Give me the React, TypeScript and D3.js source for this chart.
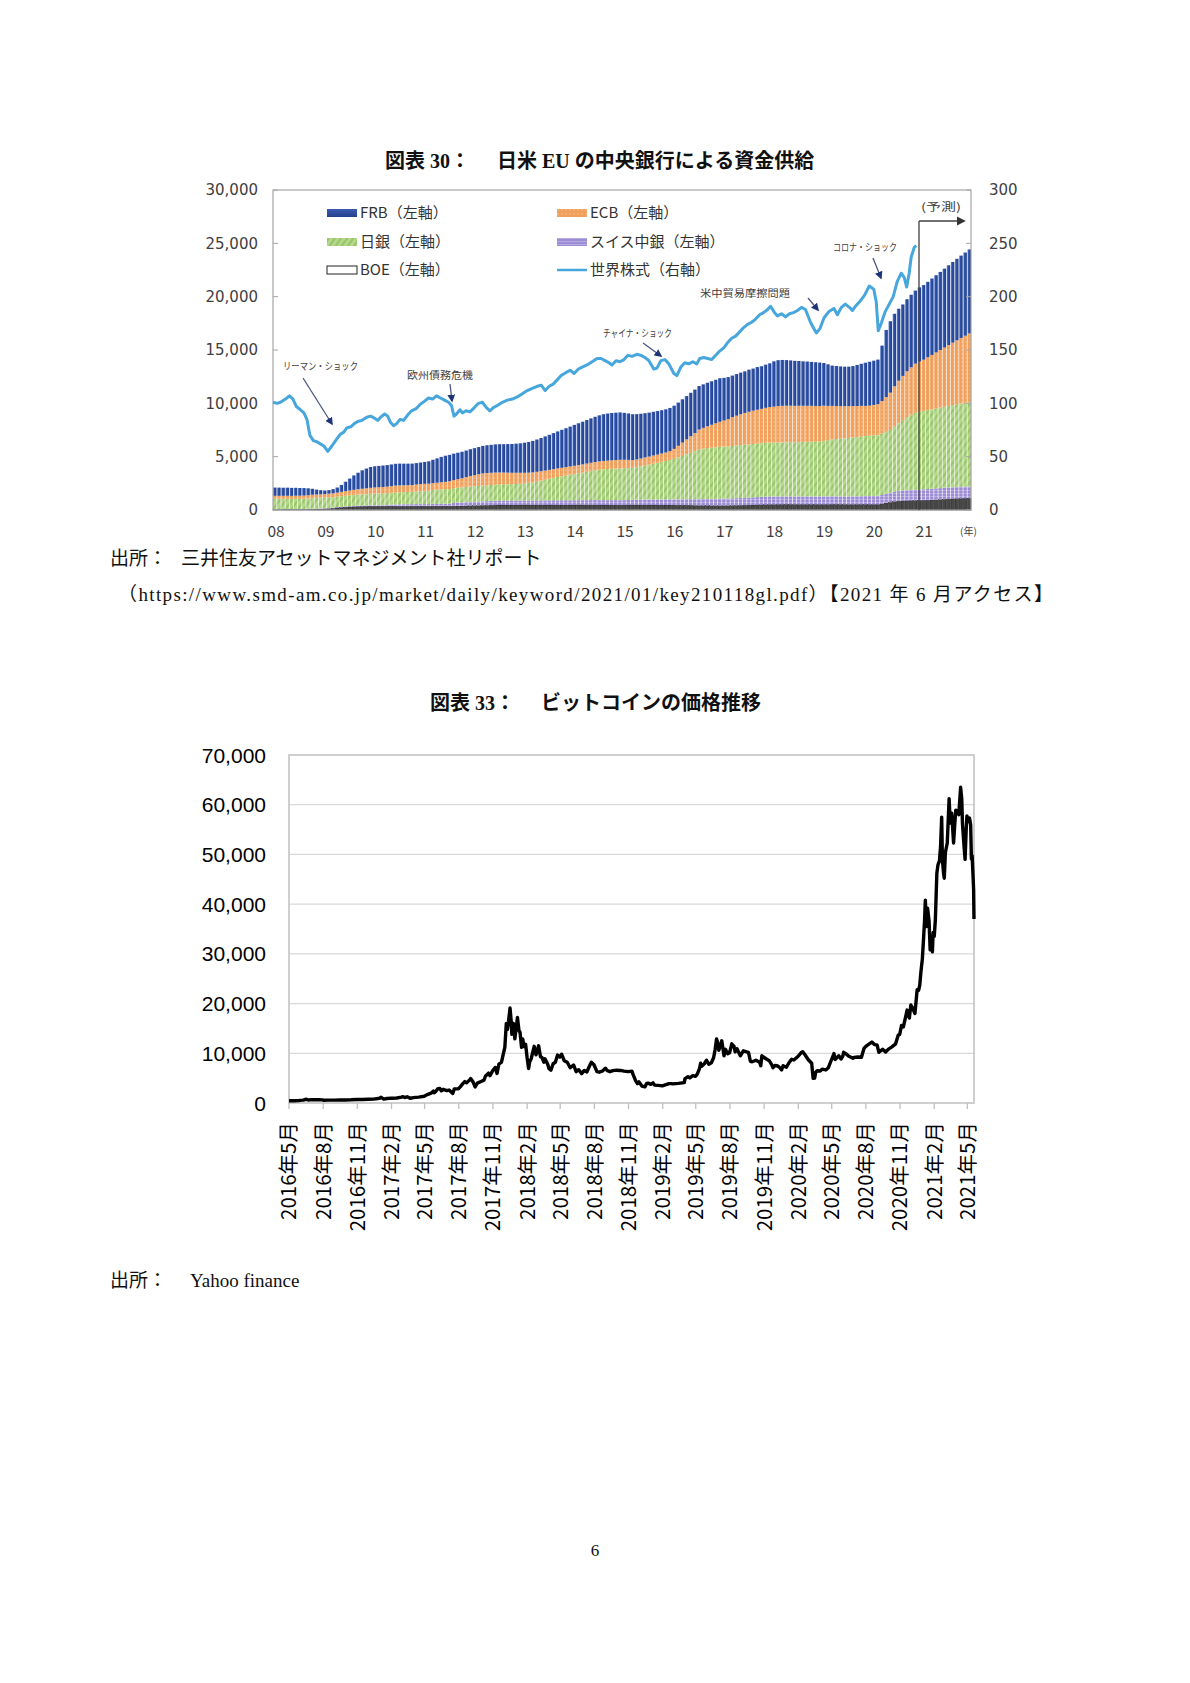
import React from 'react';
import * as d3 from 'd3';

// ---------- 図表30: central bank supply (monthly, 2008/01 - 2021/12) ----------
const startYear = 2008;

const boe = [
  30, 30, 30, 35, 35, 40, 40, 45, 50, 60, 70, 80,
  100, 130, 160, 200, 230, 260, 280, 300, 320, 330, 340, 350,
  350, 350, 350, 350, 350, 350, 350, 350, 355, 355, 355, 355,
  355, 355, 360, 360, 360, 360, 360, 365, 370, 380, 390, 400,
  410, 420, 430, 440, 450, 460, 470, 470, 470, 470, 470, 470,
  470, 470, 475, 475, 470, 470, 470, 475, 475, 470, 470, 470,
  470, 475, 475, 480, 480, 480, 475, 470, 470, 465, 465, 460,
  460, 465, 470, 470, 475, 475, 470, 470, 465, 465, 470, 470,
  460, 450, 450, 450, 450, 430, 420, 420, 420, 410, 410, 410,
  410, 410, 420, 430, 440, 450, 460, 470, 480, 490, 500, 510,
  510, 520, 520, 525, 525, 520, 520, 520, 515, 515, 520, 520,
  520, 520, 525, 525, 520, 520, 515, 515, 520, 520, 520, 520,
  520, 520, 580, 650, 720, 780, 820, 850, 870, 880, 890, 900,
  910, 920, 940, 960, 980, 1000, 1020, 1040, 1060, 1080, 1090, 1100,
];

const swiss = [
  50, 50, 50, 50, 50, 50, 50, 50, 55, 60, 60, 60,
  60, 62, 65, 68, 70, 72, 75, 80, 85, 90, 95, 100,
  100, 105, 110, 120, 150, 170, 180, 185, 190, 195, 200, 200,
  200, 200, 210, 210, 220, 230, 240, 300, 330, 340, 345, 350,
  360, 370, 380, 390, 400, 410, 420, 420, 420, 420, 420, 420,
  420, 420, 425, 425, 430, 430, 430, 435, 435, 440, 440, 440,
  440, 440, 445, 445, 450, 450, 450, 455, 455, 460, 460, 460,
  470, 480, 490, 500, 500, 510, 510, 520, 520, 530, 530, 540,
  540, 550, 560, 570, 580, 590, 600, 610, 620, 630, 640, 650,
  650, 660, 670, 680, 690, 700, 710, 720, 730, 740, 750, 760,
  760, 765, 765, 760, 760, 755, 760, 760, 765, 760, 755, 760,
  760, 760, 765, 765, 760, 760, 765, 770, 770, 780, 790, 800,
  800, 810, 830, 860, 890, 920, 950, 970, 990, 1000, 1010, 1020,
  1030, 1040, 1050, 1060, 1070, 1080, 1090, 1100, 1100, 1100, 1100, 1100,
];

const boj = [
  970, 970, 960, 960, 950, 950, 950, 960, 970, 990, 1000, 1010,
  1000, 1000, 990, 990, 1000, 1010, 1010, 1020, 1030, 1040, 1050, 1060,
  1080, 1090, 1100, 1110, 1110, 1120, 1130, 1140, 1150, 1160, 1180, 1200,
  1220, 1240, 1300, 1330, 1350, 1360, 1370, 1380, 1390, 1400, 1420, 1440,
  1450, 1460, 1470, 1480, 1490, 1500, 1510, 1520, 1530, 1540, 1550, 1560,
  1600, 1650, 1700, 1780, 1860, 1940, 2020, 2100, 2180, 2250, 2320, 2390,
  2450, 2520, 2590, 2660, 2730, 2800, 2860, 2900, 2920, 2940, 2960, 2980,
  2990, 2995, 3000, 3050, 3120, 3200, 3280, 3360, 3440, 3520, 3600, 3680,
  3780, 3920, 4060, 4200, 4340, 4500, 4670, 4720, 4760, 4800, 4830, 4860,
  4880, 4890, 4910, 4930, 4950, 4970, 4990, 5000, 5010, 5020, 5050, 5060,
  5040, 5040, 5050, 5060, 5070, 5080, 5090, 5100, 5110, 5120, 5130, 5140,
  5200, 5260, 5320, 5360, 5400, 5440, 5480, 5520, 5560, 5600, 5630, 5660,
  5680, 5690, 5750, 5820, 5890, 6100, 6350, 6600, 6850, 7050, 7220, 7300,
  7350, 7400, 7450, 7500, 7550, 7600, 7650, 7700, 7750, 7800, 7850, 7900,
];

const ecb = [
  280, 280, 290, 290, 290, 300, 300, 300, 310, 320, 320, 320,
  330, 340, 350, 370, 400, 430, 460, 490, 510, 530, 550, 570,
  580, 590, 600, 610, 630, 650, 650, 640, 630, 630, 650, 680,
  680, 670, 660, 660, 670, 690, 720, 760, 800, 850, 920, 1000,
  1050, 1100, 1150, 1160, 1150, 1140, 1120, 1100, 1080, 1060, 1050, 1040,
  1000, 960, 930, 900, 880, 860, 840, 820, 810, 800, 790, 780,
  780, 775, 770, 770, 770, 770, 770, 775, 780, 790, 800, 810,
  790, 760, 720, 720, 730, 740, 750, 760, 770, 780, 790, 830,
  950, 1100, 1250, 1400, 1550, 1700, 1850, 1950, 2050, 2150, 2250, 2350,
  2450, 2550, 2700, 2800, 2900, 2980, 3050, 3120, 3180, 3230, 3280, 3320,
  3380, 3420, 3430, 3430, 3420, 3410, 3400, 3390, 3380, 3370, 3350, 3330,
  3300, 3220, 3150, 3100, 3060, 3020, 2980, 2940, 2900, 2860, 2820, 2800,
  2850, 2900, 3050, 3250, 3500, 3800, 4000, 4150, 4300, 4450, 4600, 4700,
  4800, 4950, 5100, 5250, 5400, 5550, 5700, 5850, 6000, 6150, 6300, 6450,
];

const frb = [
  770, 770, 760, 760, 750, 740, 720, 700, 650, 560, 460, 390,
  340, 330, 390, 480, 650, 880, 1120, 1350, 1550, 1730, 1850, 1950,
  1990, 2000, 2010, 2020, 2030, 2040, 2040, 2030, 2020, 2010, 2010, 2015,
  2050, 2100, 2180, 2280, 2380, 2450, 2480, 2480, 2480, 2490, 2500, 2510,
  2530, 2550, 2580, 2600, 2620, 2640, 2650, 2660, 2680, 2700, 2730, 2760,
  2820, 2880, 2950, 3030, 3110, 3200, 3290, 3380, 3470, 3560, 3650, 3740,
  3840, 3920, 4000, 4080, 4160, 4240, 4320, 4380, 4420, 4440, 4440, 4440,
  4400, 4350, 4300, 4250, 4200, 4150, 4120, 4100, 4080, 4060, 4050, 4050,
  4050, 4050, 4060, 4060, 4070, 4070, 4080, 4080, 4080, 4080, 4080, 4080,
  4000, 3950, 3900, 3900, 3900, 3900, 3950, 3950, 4000, 4000, 4050, 4100,
  4250, 4300, 4300, 4280, 4250, 4220, 4200, 4170, 4150, 4120, 4100, 4070,
  4000, 3900, 3780, 3750, 3720, 3700, 3700, 3750, 3850, 3950, 4050, 4120,
  4150, 4180, 5200, 6300, 6700, 6800, 6750, 6700, 6750, 6800, 6850, 6950,
  7000, 7080, 7160, 7240, 7320, 7400, 7480, 7560, 7640, 7720, 7800, 7880,
];

// 世界株式 (right axis), [decimal year, index]
const worldStocks: [number, number][] = [
  [2008.0, 101], [2008.08, 100], [2008.15, 101], [2008.25, 104], [2008.33, 107], [2008.4, 104],
  [2008.47, 97], [2008.55, 94], [2008.62, 91], [2008.68, 85], [2008.74, 70], [2008.81, 65],
  [2008.88, 64], [2008.95, 62], [2009.02, 60], [2009.1, 55], [2009.18, 60], [2009.27, 66],
  [2009.35, 71], [2009.42, 73], [2009.48, 77], [2009.56, 78], [2009.63, 81], [2009.7, 83],
  [2009.78, 84], [2009.88, 87], [2009.96, 88], [2010.04, 86], [2010.1, 84], [2010.16, 87],
  [2010.24, 90], [2010.3, 88], [2010.36, 82], [2010.42, 79], [2010.48, 81], [2010.55, 85],
  [2010.62, 84], [2010.7, 89], [2010.78, 93], [2010.87, 95], [2010.95, 99], [2011.04, 102],
  [2011.12, 105], [2011.2, 104], [2011.28, 107], [2011.36, 105], [2011.44, 103], [2011.52, 101],
  [2011.58, 98], [2011.63, 88], [2011.68, 90], [2011.75, 94], [2011.8, 91], [2011.87, 93],
  [2011.95, 92], [2012.04, 96], [2012.12, 100], [2012.2, 101], [2012.28, 96], [2012.35, 93],
  [2012.42, 96], [2012.5, 98], [2012.6, 101], [2012.7, 103], [2012.8, 104], [2012.9, 106],
  [2013.0, 109], [2013.1, 112], [2013.2, 114], [2013.3, 116], [2013.38, 117], [2013.46, 112],
  [2013.54, 116], [2013.62, 118], [2013.7, 122], [2013.78, 126], [2013.88, 129], [2013.96, 131],
  [2014.04, 128], [2014.12, 132], [2014.2, 134], [2014.3, 136], [2014.4, 139], [2014.5, 142],
  [2014.58, 142], [2014.66, 140], [2014.74, 138], [2014.8, 136], [2014.88, 140], [2014.96, 139],
  [2015.04, 141], [2015.12, 145], [2015.2, 144], [2015.3, 146], [2015.38, 145], [2015.46, 143],
  [2015.54, 140], [2015.64, 132], [2015.7, 133], [2015.78, 140], [2015.86, 141], [2015.94, 137],
  [2016.04, 128], [2016.1, 126], [2016.18, 134], [2016.26, 138], [2016.34, 137], [2016.42, 139],
  [2016.5, 137], [2016.56, 142], [2016.64, 143], [2016.72, 142], [2016.8, 141], [2016.88, 145],
  [2016.96, 149], [2017.04, 152], [2017.12, 157], [2017.2, 161], [2017.28, 163], [2017.36, 167],
  [2017.44, 171], [2017.52, 174], [2017.6, 176], [2017.68, 179], [2017.76, 183], [2017.84, 185],
  [2017.92, 188], [2017.98, 191], [2018.06, 185], [2018.12, 182], [2018.2, 184], [2018.28, 181],
  [2018.36, 184], [2018.44, 185], [2018.52, 187], [2018.6, 190], [2018.68, 188], [2018.78, 176],
  [2018.85, 170], [2018.9, 166], [2018.97, 170], [2019.05, 180], [2019.15, 186], [2019.25, 189],
  [2019.32, 183], [2019.4, 190], [2019.48, 193], [2019.56, 190], [2019.62, 187], [2019.7, 192],
  [2019.78, 196], [2019.86, 201], [2019.96, 210], [2020.05, 207], [2020.1, 195], [2020.14, 168],
  [2020.2, 175], [2020.28, 186], [2020.36, 193], [2020.44, 200], [2020.52, 214], [2020.6, 222],
  [2020.66, 218], [2020.71, 209], [2020.76, 222], [2020.8, 237], [2020.86, 246], [2020.9, 248],
];

const leftTicks = [0, 5000, 10000, 15000, 20000, 25000, 30000];
const rightTicks = [0, 50, 100, 150, 200, 250, 300];
const yearLabels = ['08', '09', '10', '11', '12', '13', '14', '15', '16', '17', '18', '19', '20', '21'];

// ---------- 図表33: Bitcoin price (USD) ----------
const btc: [string, number][] = [
  ['2016-05-01', 450], ['2016-05-15', 455], ['2016-05-27', 470], ['2016-05-31', 530],
  ['2016-06-08', 580], ['2016-06-13', 700], ['2016-06-17', 760], ['2016-06-22', 600], ['2016-06-30', 670],
  ['2016-07-10', 650], ['2016-07-20', 670], ['2016-07-31', 625],
  ['2016-08-02', 545], ['2016-08-15', 570], ['2016-08-31', 575],
  ['2016-09-15', 608], ['2016-09-30', 610], ['2016-10-15', 640], ['2016-10-31', 700],
  ['2016-11-15', 712], ['2016-11-30', 740], ['2016-12-15', 780], ['2016-12-31', 963],
  ['2017-01-04', 1150], ['2017-01-11', 780], ['2017-01-20', 900], ['2017-01-31', 970],
  ['2017-02-15', 1010], ['2017-02-28', 1190],
  ['2017-03-03', 1280], ['2017-03-10', 1100], ['2017-03-15', 1250], ['2017-03-24', 930], ['2017-03-31', 1080],
  ['2017-04-15', 1180], ['2017-04-30', 1350],
  ['2017-05-10', 1750], ['2017-05-20', 2050], ['2017-05-25', 2400], ['2017-05-27', 2050], ['2017-05-31', 2300],
  ['2017-06-06', 2900], ['2017-06-11', 2950], ['2017-06-15', 2450], ['2017-06-20', 2750], ['2017-06-30', 2480],
  ['2017-07-06', 2600], ['2017-07-16', 1930], ['2017-07-20', 2850], ['2017-07-31', 2875],
  ['2017-08-05', 3250], ['2017-08-12', 3900], ['2017-08-17', 4300], ['2017-08-22', 4050], ['2017-08-31', 4700],
  ['2017-09-02', 4900], ['2017-09-08', 4300], ['2017-09-14', 3230], ['2017-09-20', 4000], ['2017-09-30', 4340],
  ['2017-10-08', 4600], ['2017-10-12', 5430], ['2017-10-20', 6000], ['2017-10-24', 5500], ['2017-10-31', 6470],
  ['2017-11-07', 7150], ['2017-11-12', 5950], ['2017-11-17', 7800], ['2017-11-24', 8200], ['2017-11-29', 9900],
  ['2017-12-03', 11200], ['2017-12-07', 16000], ['2017-12-10', 14800], ['2017-12-13', 16400],
  ['2017-12-17', 19100], ['2017-12-20', 16600], ['2017-12-22', 13800], ['2017-12-26', 16000], ['2017-12-30', 12900],
  ['2018-01-06', 17200], ['2018-01-10', 14600], ['2018-01-13', 14200], ['2018-01-17', 11200],
  ['2018-01-20', 12900], ['2018-01-24', 11350], ['2018-01-28', 11800], ['2018-02-01', 9100],
  ['2018-02-05', 6950], ['2018-02-08', 8300], ['2018-02-12', 8900], ['2018-02-20', 11400], ['2018-02-25', 9700],
  ['2018-03-04', 11500], ['2018-03-09', 9300], ['2018-03-13', 9150], ['2018-03-18', 8200], ['2018-03-21', 8900],
  ['2018-03-28', 7900], ['2018-04-01', 6900], ['2018-04-06', 6600], ['2018-04-12', 7900], ['2018-04-18', 8200],
  ['2018-04-24', 9650], ['2018-04-30', 9240],
  ['2018-05-05', 9800], ['2018-05-12', 8500], ['2018-05-20', 8200], ['2018-05-28', 7100],
  ['2018-06-06', 7650], ['2018-06-13', 6300], ['2018-06-20', 6700], ['2018-06-28', 5900],
  ['2018-07-05', 6550], ['2018-07-12', 6250], ['2018-07-18', 7300], ['2018-07-24', 8200], ['2018-07-31', 7700],
  ['2018-08-08', 6300], ['2018-08-14', 6200], ['2018-08-22', 6400], ['2018-08-31', 7000],
  ['2018-09-05', 6500], ['2018-09-12', 6300], ['2018-09-20', 6500], ['2018-09-30', 6600],
  ['2018-10-10', 6550], ['2018-10-20', 6400], ['2018-10-31', 6300],
  ['2018-11-10', 6400], ['2018-11-14', 5600], ['2018-11-20', 4500], ['2018-11-25', 3900], ['2018-11-29', 4250],
  ['2018-12-07', 3400], ['2018-12-15', 3250], ['2018-12-20', 3950], ['2018-12-24', 4000], ['2018-12-31', 3750],
  ['2019-01-06', 4050], ['2019-01-10', 3600], ['2019-01-20', 3550], ['2019-01-31', 3450],
  ['2019-02-08', 3650], ['2019-02-18', 3900], ['2019-02-24', 3900], ['2019-02-28', 3850],
  ['2019-03-15', 3950], ['2019-03-31', 4100],
  ['2019-04-02', 4900], ['2019-04-10', 5300], ['2019-04-15', 5050], ['2019-04-23', 5500], ['2019-04-30', 5350],
  ['2019-05-05', 5800], ['2019-05-11', 6900], ['2019-05-14', 8000], ['2019-05-17', 7400], ['2019-05-24', 7900],
  ['2019-05-30', 8600], ['2019-06-05', 7800], ['2019-06-12', 8100], ['2019-06-18', 9100], ['2019-06-22', 10700],
  ['2019-06-26', 12900], ['2019-06-28', 12400], ['2019-07-02', 10600], ['2019-07-10', 12500],
  ['2019-07-16', 9500], ['2019-07-20', 10800], ['2019-07-26', 9900], ['2019-07-31', 10100],
  ['2019-08-06', 11900], ['2019-08-12', 11400], ['2019-08-15', 10300], ['2019-08-20', 10900], ['2019-08-29', 9500],
  ['2019-09-06', 10500], ['2019-09-15', 10300], ['2019-09-20', 10200], ['2019-09-25', 8400], ['2019-09-30', 8300],
  ['2019-10-10', 8600], ['2019-10-20', 8200], ['2019-10-23', 7500], ['2019-10-26', 9500], ['2019-10-31', 9200],
  ['2019-11-08', 8800], ['2019-11-15', 8500], ['2019-11-22', 7600], ['2019-11-25', 7100], ['2019-11-30', 7550],
  ['2019-12-06', 7500], ['2019-12-12', 7200], ['2019-12-18', 6650], ['2019-12-22', 7500], ['2019-12-31', 7200],
  ['2020-01-07', 8100], ['2020-01-14', 8800], ['2020-01-20', 8650], ['2020-01-31', 9350],
  ['2020-02-09', 10150], ['2020-02-13', 10300], ['2020-02-20', 9600], ['2020-02-28', 8700],
  ['2020-03-08', 8000], ['2020-03-12', 4950], ['2020-03-16', 5000], ['2020-03-19', 6200], ['2020-03-23', 6500],
  ['2020-03-31', 6450], ['2020-04-05', 6800], ['2020-04-15', 6650], ['2020-04-22', 7100], ['2020-04-30', 8650],
  ['2020-05-07', 9950], ['2020-05-10', 8750], ['2020-05-20', 9500], ['2020-05-26', 8850], ['2020-05-31', 9450],
  ['2020-06-02', 10200], ['2020-06-10', 9800], ['2020-06-15', 9450], ['2020-06-27', 9000], ['2020-06-30', 9150],
  ['2020-07-10', 9250], ['2020-07-20', 9200], ['2020-07-27', 11000], ['2020-07-31', 11350],
  ['2020-08-10', 11900], ['2020-08-17', 12250], ['2020-08-24', 11750], ['2020-08-31', 11700],
  ['2020-09-05', 10200], ['2020-09-15', 10800], ['2020-09-23', 10250], ['2020-09-30', 10800],
  ['2020-10-10', 11300], ['2020-10-20', 11900], ['2020-10-27', 13650], ['2020-10-31', 13800],
  ['2020-11-05', 15600], ['2020-11-10', 15300], ['2020-11-17', 17700], ['2020-11-20', 18700],
  ['2020-11-26', 17100], ['2020-11-30', 19700],
  ['2020-12-05', 19100], ['2020-12-11', 18000], ['2020-12-17', 22800], ['2020-12-21', 22700],
  ['2020-12-24', 23700], ['2020-12-27', 26300], ['2020-12-31', 29000],
  ['2021-01-03', 32800], ['2021-01-06', 36800], ['2021-01-08', 40800], ['2021-01-11', 35500],
  ['2021-01-14', 39200], ['2021-01-18', 36600], ['2021-01-21', 30800], ['2021-01-24', 32300],
  ['2021-01-27', 30400], ['2021-01-29', 34300], ['2021-02-01', 33500],
  ['2021-02-04', 36900], ['2021-02-08', 46200], ['2021-02-11', 47900], ['2021-02-15', 48700],
  ['2021-02-18', 51600], ['2021-02-21', 57500], ['2021-02-23', 48800], ['2021-02-26', 46300], ['2021-02-28', 45200],
  ['2021-03-03', 50400], ['2021-03-08', 52300], ['2021-03-13', 61200], ['2021-03-16', 56300],
  ['2021-03-20', 58300], ['2021-03-25', 52300], ['2021-03-28', 55800], ['2021-03-31', 58900],
  ['2021-04-04', 58700], ['2021-04-08', 58000], ['2021-04-13', 63500], ['2021-04-16', 61200],
  ['2021-04-18', 56200], ['2021-04-22', 51800], ['2021-04-25', 49000], ['2021-04-28', 55000], ['2021-04-30', 57750],
  ['2021-05-03', 56600], ['2021-05-07', 57300], ['2021-05-10', 55900], ['2021-05-12', 49100],
  ['2021-05-14', 49700], ['2021-05-16', 46400], ['2021-05-18', 42900], ['2021-05-19', 37000],
];
const btcTicks = [0, 10000, 20000, 30000, 40000, 50000, 60000, 70000];

const jpSans = '"Noto Sans CJK JP", sans-serif';
const serif = '"Liberation Serif", "Noto Sans CJK JP", serif';
const verdanaLike = '"DejaVu Sans", "Noto Sans CJK JP", sans-serif';

// ---------------- 図表30 ----------------
const P = { left: 273, right: 971, top: 190, bottom: 510 };

function SupplyChart() {
  const keys = ['boe', 'swiss', 'boj', 'ecb', 'frb'];
  const rows = frb.map((_, i) => ({ i, boe: boe[i], swiss: swiss[i], boj: boj[i], ecb: ecb[i], frb: frb[i] }));
  const x = d3.scaleBand<number>().domain(rows.map((r) => r.i)).range([P.left, P.right]).paddingInner(0.16);
  const xYear = d3.scaleLinear().domain([startYear, startYear + 14]).range([P.left, P.right]);
  const y = d3.scaleLinear().domain([0, 30000]).range([P.bottom, P.top]);
  const yR = d3.scaleLinear().domain([0, 300]).range([P.bottom, P.top]);
  const layers = d3.stack<any>().keys(keys)(rows);
  const fills: Record<string, string> = {
    boe: '#474747', swiss: 'url(#patSwiss)', boj: 'url(#patBoj)', ecb: 'url(#patEcb)', frb: 'url(#gradFrb)',
  };
  const line = d3.line<[number, number]>().x((d) => xYear(d[0])).y((d) => yR(d[1]));

  const notes = [
    { t: 'リーマン・ショック', x: 283, y: 370, len: 75, a: [303, 378, 332, 424] },
    { t: '欧州債務危機', x: 407, y: 379, len: 66, a: [450, 384, 452, 401] },
    { t: 'チャイナ・ショック', x: 603, y: 337, len: 69, a: [643, 343, 661, 356] },
    { t: '米中貿易摩擦問題', x: 700, y: 297, len: 90, a: [808, 298, 818, 310] },
    { t: 'コロナ・ショック', x: 833, y: 251, len: 64, a: [873, 258, 881, 278] },
  ];

  const legend = [
    { label: 'FRB（左軸）', x: 327, y: 213, fill: 'url(#gradFrbL)' },
    { label: '日銀（左軸）', x: 327, y: 242, fill: 'url(#patBoj)' },
    { label: 'BOE（左軸）', x: 327, y: 270, fill: '#ffffff', stroke: '#222' },
    { label: 'ECB（左軸）', x: 557, y: 213, fill: 'url(#patEcb)' },
    { label: 'スイス中銀（左軸）', x: 557, y: 242, fill: 'url(#patSwiss)' },
  ];

  return (
    <g>
      <defs>
        <pattern id="patBoj" width="5" height="5" patternUnits="userSpaceOnUse" patternTransform="rotate(35)">
          <rect width="5" height="5" fill="#b5d78c" />
          <line x1="1" y1="0" x2="1" y2="5" stroke="#8fc05e" strokeWidth="1.5" />
        </pattern>
        <pattern id="patEcb" width="4" height="4" patternUnits="userSpaceOnUse">
          <rect width="4" height="4" fill="#f0a05c" />
          <circle cx="2" cy="2" r="0.8" fill="#f6c08a" />
        </pattern>
        <pattern id="patSwiss" width="4" height="3" patternUnits="userSpaceOnUse">
          <rect width="4" height="3" fill="#9b8cd3" />
          <line x1="0" y1="1.5" x2="4" y2="1.5" stroke="#beb3e8" strokeWidth="0.8" />
        </pattern>
        <linearGradient id="gradFrb" x1="0" x2="1" y1="0" y2="0">
          <stop offset="0" stopColor="#6f90d8" />
          <stop offset="0.35" stopColor="#2f51a4" />
          <stop offset="1" stopColor="#223f8c" />
        </linearGradient>
        <linearGradient id="gradFrbL" x1="0" x2="0" y1="0" y2="1">
          <stop offset="0" stopColor="#3a5cb0" />
          <stop offset="1" stopColor="#22408e" />
        </linearGradient>
        <marker id="arrNavy" viewBox="0 0 10 10" refX="8" refY="5" markerWidth="6" markerHeight="6" orient="auto">
          <path d="M0,0 L10,5 L0,10 z" fill="#1d3577" />
        </marker>
        <marker id="arrGray" viewBox="0 0 10 10" refX="8" refY="5" markerWidth="7" markerHeight="7" orient="auto">
          <path d="M0,0 L10,5 L0,10 z" fill="#333" />
        </marker>
      </defs>

      <text x={385} y={168} fontFamily={serif} fontSize={20} fontWeight="bold" fill="#111">図表 30：</text>
      <text x={497} y={168} fontFamily={serif} fontSize={20} fontWeight="bold" fill="#111">日米 EU の中央銀行による資金供給</text>

      {/* bars */}
      {layers.map((layer) => (
        <g key={layer.key}>
          {layer.map((d, i) => (
            <rect
              key={i}
              x={x(i)}
              width={x.bandwidth()}
              y={y(d[1])}
              height={Math.max(0, y(d[0]) - y(d[1]))}
              fill={fills[layer.key]}
              stroke={layer.key === 'boe' ? '#111' : 'none'}
              strokeWidth={layer.key === 'boe' ? 0.5 : 0}
            />
          ))}
        </g>
      ))}

      {/* frame */}
      <rect x={P.left} y={P.top} width={P.right - P.left} height={P.bottom - P.top} fill="none" stroke="#a6a6a6" strokeWidth={1.2} />
      {leftTicks.map((t) => (
        <g key={t}>
          <line x1={P.left} x2={P.left + 5} y1={y(t)} y2={y(t)} stroke="#a6a6a6" />
          <text x={258} y={y(t)} dy="0.36em" textAnchor="end" fontFamily={verdanaLike} fontSize={15} fill="#404040">
            {d3.format(',')(t)}
          </text>
        </g>
      ))}
      {rightTicks.map((t) => (
        <g key={t}>
          <line x1={P.right - 5} x2={P.right} y1={yR(t)} y2={yR(t)} stroke="#a6a6a6" />
          <text x={989} y={yR(t)} dy="0.36em" textAnchor="start" fontFamily={verdanaLike} fontSize={15} fill="#404040">
            {t}
          </text>
        </g>
      ))}
      {yearLabels.map((lab, i) => (
        <text key={lab} x={xYear(startYear + i) + 3} y={537} textAnchor="middle" fontFamily={jpSans} fontSize={15.5} fill="#404040">
          {lab}
        </text>
      ))}
      <text x={960} y={535} fontFamily={jpSans} fontSize={10} fill="#404040">(年)</text>

      {/* world stocks */}
      <path d={line(worldStocks) ?? ''} fill="none" stroke="#47a6dc" strokeWidth={3} strokeLinejoin="round" />

      {/* forecast marker */}
      <line x1={919} y1={221} x2={919} y2={P.bottom} stroke="#404040" strokeWidth={1.3} />
      <line x1={919} y1={221} x2={964} y2={221} stroke="#404040" strokeWidth={1.3} markerEnd="url(#arrGray)" />
      <text x={921} y={211} fontFamily={jpSans} fontSize={11} fill="#404040" textLength={40} lengthAdjust="spacingAndGlyphs">(予測)</text>

      {/* annotations */}
      {notes.map((n) => (
        <g key={n.t}>
          <text x={n.x} y={n.y} fontFamily={jpSans} fontSize={10} fill="#404040" textLength={n.len} lengthAdjust="spacingAndGlyphs">
            {n.t}
          </text>
          <line x1={n.a[0]} y1={n.a[1]} x2={n.a[2]} y2={n.a[3]} stroke="#4b5784" strokeWidth={1.3} markerEnd="url(#arrNavy)" />
        </g>
      ))}

      {/* legend */}
      {legend.map((l) => (
        <g key={l.label}>
          <rect x={l.x} y={l.y - 4} width={30} height={8} fill={l.fill} stroke={l.stroke ?? 'none'} strokeWidth={1} />
          <text x={l.x + 33} y={l.y} dy="0.36em" fontFamily={jpSans} fontSize={15} fill="#333">{l.label}</text>
        </g>
      ))}
      <line x1={557} x2={587} y1={270} y2={270} stroke="#47a6dc" strokeWidth={2.5} />
      <text x={590} y={270} dy="0.36em" fontFamily={jpSans} fontSize={15} fill="#333">世界株式（右軸）</text>

      {/* source */}
      <text x={110} y={565} fontFamily={serif} fontSize={19} fill="#111">出所：</text>
      <text x={181} y={565} fontFamily={serif} fontSize={19} fill="#111">三井住友アセットマネジメント社リポート</text>
      <text x={118} y={601} fontFamily={serif} fontSize={19} fill="#111" textLength={935} lengthAdjust="spacing">
        （https://www.smd-am.co.jp/market/daily/keyword/2021/01/key210118gl.pdf）【2021 年 6 月アクセス】
      </text>
    </g>
  );
}

// ---------------- 図表33 ----------------
const B = { left: 289, right: 974, top: 755, bottom: 1103 };

function BtcChart() {
  const parse = d3.timeParse('%Y-%m-%d');
  const pts = btc.map(([d, v]) => [parse(d) as Date, v] as [Date, number]);
  const x = d3.scaleTime().domain([new Date(2016, 4, 1), new Date(2021, 4, 19)]).range([B.left, B.right]);
  const y = d3.scaleLinear().domain([0, 70000]).range([B.bottom, B.top]);
  const ticks = d3.timeMonth.range(new Date(2016, 4, 1), new Date(2021, 4, 2), 3);
  const fmt = d3.timeFormat('%Y年%-m月');
  const line = d3.line<[Date, number]>().x((d) => x(d[0])).y((d) => y(d[1]));

  return (
    <g>
      <text x={430} y={710} fontFamily={serif} fontSize={20} fontWeight="bold" fill="#111">図表 33：</text>
      <text x={541} y={710} fontFamily={serif} fontSize={20} fontWeight="bold" fill="#111">ビットコインの価格推移</text>

      {btcTicks.slice(1, -1).map((t) => (
        <line key={t} x1={B.left} x2={B.right} y1={y(t)} y2={y(t)} stroke="#d9d9d9" strokeWidth={1.3} />
      ))}
      <rect x={B.left} y={B.top} width={B.right - B.left} height={B.bottom - B.top} fill="none" stroke="#c4c4c4" strokeWidth={1.6} />
      {btcTicks.map((t) => (
        <text key={t} x={266} y={y(t)} dy="0.36em" textAnchor="end" fontFamily='"Liberation Sans", Arial, sans-serif' fontSize={21} fill="#000">
          {d3.format(',')(t)}
        </text>
      ))}
      {ticks.map((t) => (
        <g key={+t}>
          <line x1={x(t)} x2={x(t)} y1={B.bottom} y2={B.bottom + 6} stroke="#bfbfbf" strokeWidth={1.3} />
          <text
            transform={`translate(${x(t)},${B.bottom + 19}) rotate(-90)`}
            dy="0.36em"
            textAnchor="end"
            fontFamily={jpSans}
            fontSize={20.5}
            fill="#000"
          >
            {fmt(t)}
          </text>
        </g>
      ))}
      <path d={line(pts) ?? ''} fill="none" stroke="#000" strokeWidth={3.4} strokeLinejoin="round" />

      <text x={110} y={1287} fontFamily={serif} fontSize={19} fill="#111">出所：</text>
      <text x={190} y={1287} fontFamily={serif} fontSize={19} fill="#111">Yahoo finance</text>
    </g>
  );
}

export default function App() {
  return (
    <svg
      width={1190}
      height={1683}
      viewBox="0 0 1190 1683"
      style={{ position: 'absolute', left: 0, top: 0, background: '#fff' }}
    >
      <rect width={1190} height={1683} fill="#fff" />
      <SupplyChart />
      <BtcChart />
      <text x={595} y={1556} textAnchor="middle" fontFamily={serif} fontSize={17} fill="#111">6</text>
    </svg>
  );
}
